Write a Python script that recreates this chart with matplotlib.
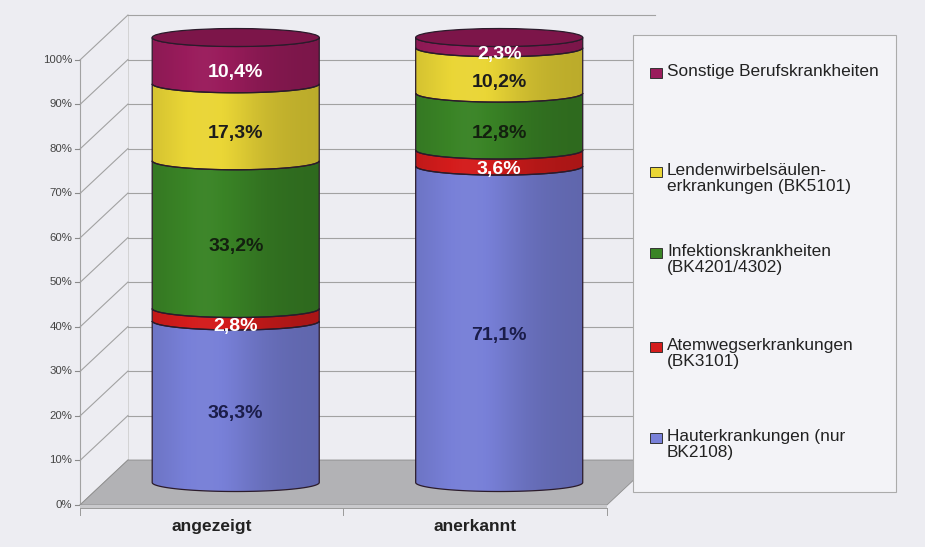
import numpy as np
import matplotlib.pyplot as plt
from matplotlib.colors import to_rgb
from matplotlib.patches import Polygon, Ellipse, Rectangle

plt.rcParams['font.family'] = ['Liberation Sans', 'DejaVu Sans']

# Daten
kategorien = ['angezeigt', 'anerkannt']
serien = ['Hauterkrankungen (nur\nBK2108)',
          'Atemwegserkrankungen\n(BK3101)',
          'Infektionskrankheiten\n(BK4201/4302)',
          'Lendenwirbelsäulen-\nerkrankungen (BK5101)',
          'Sonstige Berufskrankheiten']
haut = [36.3, 71.1]
atemwege = [2.8, 3.6]
infektion = [33.2, 12.8]
lws = [17.3, 10.2]
sonstige = [10.4, 2.3]
werte = [haut, atemwege, infektion, lws, sonstige]
y_ticks = np.arange(0, 101, 10)

farben = ['#7880D8', '#D41C1C', '#3A8426', '#EAD636', '#9A1C5C']
deckel_farbe = '#7C1549'
textfarben = ['#1B1D4A', 'white', '#13200F', '#1C1C1C', 'white']

# Geometrie der Schraegprojektion (Datenkoordinaten)
TX, TY = 0.182, 10.1      # Tiefenversatz
R, EH = 0.317, 2.02       # Zylinderradius (x) und Ellipsen-Halbhoehe (y)
rand = '#2B1B2B'

fig = plt.figure(figsize=(9.25, 5.47), dpi=100, facecolor='#EDEDF2')
ax = fig.add_axes([0, 0, 1, 1])
ax.set_facecolor('#EDEDF2')


def schattieren(c, n=240):
    # leichte Zylinderschattierung: links heller, rechts dunkler
    t = np.linspace(0, 1, n)
    s = 0.86 + 0.18 * np.exp(-((t - 0.33) / 0.30) ** 2) - 0.06 * t
    c = np.array(to_rgb(c))
    s = s[:, None]
    rgb = np.where(s > 1, c + (1 - c) * (s - 1), c * s)
    return rgb[None, :, :]


def bogen(cx, y, rueck=False):
    th = np.linspace(np.pi, 2 * np.pi, 80)
    if rueck:
        th = th[::-1]
    return np.column_stack([cx + R * np.cos(th), y + EH * np.sin(th)])


# Rueckwand, Seitenwand, Boden
for y in y_ticks:
    ax.plot([TX, 2 + TX], [y + TY, y + TY], color='#A2A2A2', lw=0.8, zorder=0.5)
    ax.plot([0, TX], [y, y + TY], color='#A2A2A2', lw=0.8, zorder=0.5)
    ax.plot([-0.019, 0], [y, y], color='#8A8A8A', lw=0.8, zorder=0.5)
    ax.text(-0.03, y, f'{y}%', ha='right', va='center', fontsize=8.2, color='#444444')
ax.plot([TX, TX], [TY, 100 + TY], color='#CFCFCF', lw=0.6, zorder=0.4)
ax.plot([0, 0], [0, 100], color='#A2A2A2', lw=0.8, zorder=0.5)

boden = Polygon([(0, 0), (TX, TY), (2 + TX, TY), (2, 0)], closed=True,
                facecolor='#B2B2B5', edgecolor='#8E8E8E', lw=0.6, zorder=1)
ax.add_patch(boden)
ax.add_patch(Polygon([(0, 0), (2, 0), (2, -0.7), (0, -0.7)], closed=True,
                     facecolor='#C9C9CC', edgecolor='none', zorder=1))
ax.plot([0, 2], [-0.7, -0.7], color='#9A9A9A', lw=0.7, zorder=1.1)
for x in range(len(kategorien) + 1):
    ax.plot([x, x], [-0.7, -2.2], color='#9A9A9A', lw=0.7, zorder=1.1)

# Zylinder
for i, kat in enumerate(kategorien):
    cx = i + 0.5 + TX / 2
    basis = TY / 2
    unten = 0.0
    for j, serie in enumerate(werte):
        v = serie[i]
        y0, y1 = basis + unten, basis + unten + v
        pts = np.vstack([bogen(cx, y0), bogen(cx, y1, rueck=True)])
        poly = Polygon(pts, closed=True, facecolor='none', edgecolor=rand,
                       lw=0.9, zorder=4)
        ax.add_patch(poly)
        im = ax.imshow(schattieren(farben[j]), extent=[cx - R, cx + R, y0 - EH, y1 + EH],
                       aspect='auto', zorder=3, interpolation='bilinear')
        im.set_clip_path(poly)
        mitte = y0 + v / 2 - 2.6
        ax.text(cx, mitte, f'{v:.1f}%'.replace('.', ','), ha='center', va='center',
                fontsize=14, fontweight='bold', color=textfarben[j], zorder=6)
        unten += v
    ax.add_patch(Ellipse((cx, basis + unten), 2 * R, 2 * EH, facecolor=deckel_farbe,
                         edgecolor=rand, lw=0.9, zorder=5))
    ax.text(i + 0.5, -4.94, kat, ha='center', va='center', fontsize=12.5,
            fontweight='bold', color='#222222')

# Legende
ax.add_patch(Rectangle((2.099, 2.92), 0.998, 102.7, facecolor='#F3F3F7',
                       edgecolor='#ABABAB', lw=0.8, zorder=7))
leg_y = [15.06, 35.5, 56.6, 74.8, 97.1]
for j, name in enumerate(serien):
    ax.add_patch(Rectangle((2.165, leg_y[j] - 1.2), 0.042, 2.4, facecolor=farben[j],
                           edgecolor='#333333', lw=0.7, zorder=8))
    ax.text(2.2275, leg_y[j] + 2.0, name, ha='left', va='top', fontsize=12.4,
            color='#222222', linespacing=1.05, zorder=8)

ax.set_xlim(-0.3036, 3.207)
ax.set_ylim(-9.44, 113.48)
ax.axis('off')

fig.savefig('out.png', dpi=100, facecolor=fig.get_facecolor())
